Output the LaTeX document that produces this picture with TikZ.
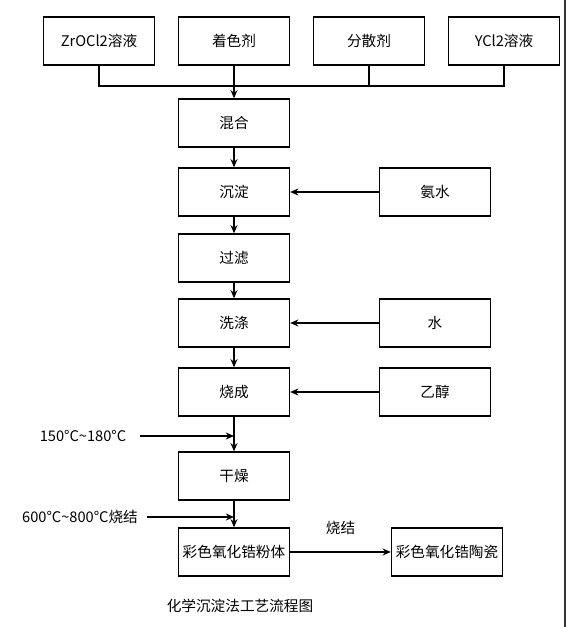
\documentclass[tikz,border=0pt]{standalone}
\usepackage{fontspec}
\setmainfont{Noto Sans CJK SC}
\usetikzlibrary{arrows.meta}

\begin{document}
\begin{tikzpicture}[x=0.03cm,y=-0.03cm,line width=1.2pt,
    >={Stealth[length=7pt,width=6pt]},
    every node/.style={font=\fontsize{12.5}{15}\selectfont}]

      \useasboundingbox (0,0) rectangle (568,627);
      \draw[line width=1pt,black!80] (565,0) -- (565,627);

      \begin{scope}[every node/.style={draw,rectangle,minimum width=3.33cm,minimum height=1.44cm,inner sep=1pt,font=\fontsize{12.5}{15}\selectfont}]
        \node (zr) at (99,41) {ZrOCl2溶液};
        \node (dye) at (234,41) {着色剂};
        \node (disp) at (369,41) {分散剂};
        \node (ycl) at (504,41) {YCl2溶液};
        \node (mix) at (234,123) {混合};
        \node (prec) at (234,192) {沉淀};
        \node (amm) at (435,192) {氨水};
        \node (filt) at (234,258) {过滤};
        \node (wash) at (234,323) {洗涤};
        \node (water) at (435,323) {水};
        \node (fire) at (234,392) {烧成};
        \node (eth) at (435,392) {乙醇};
        \node (dry) at (234,476) {干燥};
        \node (pow) at (234,552) {彩色氧化锆粉体};
        \node (cer) at (447,552) {彩色氧化锆陶瓷};
      \end{scope}

      \node (t1) at (83,436) {150°C\textasciitilde180°C};
      \node (t2) at (80,517) {600°C\textasciitilde800°C烧结};
      \node (title) at (240,606) {化学沉淀法工艺流程图};
      \coordinate (j) at (234,86);

      \draw (zr.south) |- (j) -| (ycl.south);
      \draw (disp.south) -- (disp.south |- j);

      \begin{scope}[every edge/.style={draw,->}]
        \path (dye) edge (mix);
        \path (mix) edge (prec);
        \path (prec) edge (filt);
        \path (filt) edge (wash);
        \path (wash) edge (fire);
        \path (fire) edge (dry);
        \path (dry) edge (pow);
        \path (amm) edge (prec);
        \path (water) edge (wash);
        \path (eth) edge (fire);
        \path (pow) edge node[above=11pt] {烧结} (cer);
        \path ([xshift=8pt]t1.east) edge (t1 -| dry);
        \path ([xshift=4pt]t2.east) edge (t2 -| dry);
      \end{scope}

    \end{tikzpicture}
\end{document}
